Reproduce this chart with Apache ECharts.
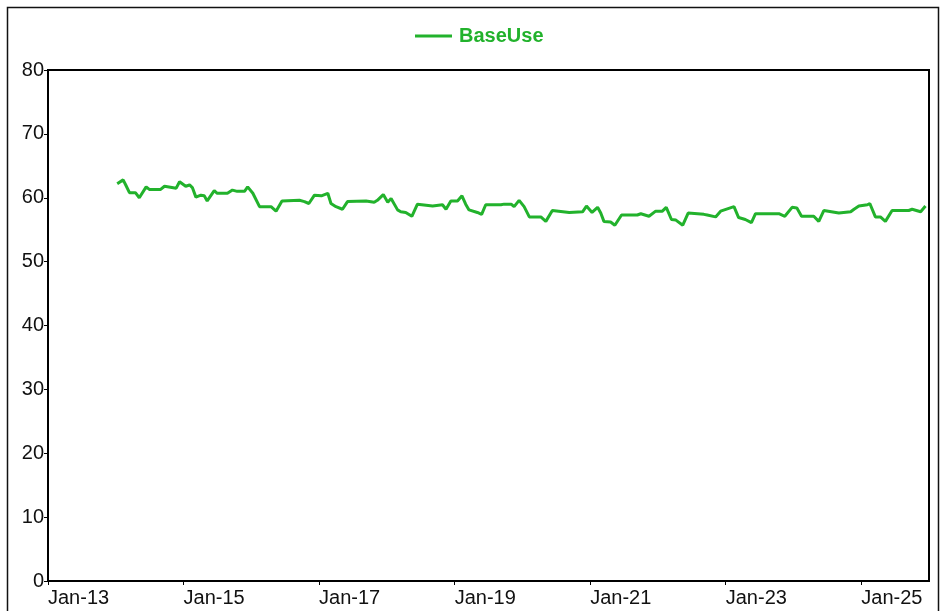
<!DOCTYPE html>
<html>
<head>
<meta charset="utf-8">
<script src="https://cdn.jsdelivr.net/npm/echarts@6/dist/echarts.min.js"></script>
<style>
html,body{margin:0;padding:0;background:#fff;}
#chart{width:941px;height:611px;}
</style>
</head>
<body>
<div id="chart"></div>
<script>
// Series name
const seriesName = 'BaseUse';

// Dates of traced vertices
const dates = [
'2014-01-09','2014-02-10','2014-02-24','2014-03-16','2014-04-17','2014-05-08','2014-06-14','2014-07-01','2014-08-31','2014-09-21',
'2014-11-23','2014-12-11','2015-01-13','2015-02-03','2015-02-18','2015-03-09','2015-04-05','2015-04-23','2015-05-09','2015-06-16',
'2015-07-02','2015-08-26','2015-09-22','2015-10-18','2015-11-26','2015-12-13','2016-01-10','2016-02-15','2016-04-17','2016-05-14',
'2016-06-15','2016-09-17','2016-10-14','2016-11-07','2016-12-07','2017-01-13','2017-02-17','2017-03-06','2017-04-02','2017-05-07',
'2017-06-03','2017-09-11','2017-10-25','2017-11-11','2017-12-13','2018-01-06','2018-01-24','2018-02-28','2018-03-17','2018-04-13',
'2018-05-16','2018-06-15','2018-09-05','2018-10-28','2018-11-16','2018-12-12','2019-01-17','2019-02-10','2019-03-02','2019-03-20',
'2019-05-04','2019-05-27','2019-06-18','2019-09-08','2019-09-25','2019-11-02','2019-11-18','2019-12-15','2020-01-11','2020-02-08',
'2020-04-10','2020-05-07','2020-06-11','2020-09-10','2020-11-21','2020-12-12','2021-01-11','2021-02-10','2021-02-27','2021-03-16',
'2021-04-21','2021-05-14','2021-06-19','2021-09-12','2021-10-01','2021-11-14','2021-12-20','2022-01-25','2022-02-15','2022-03-15',
'2022-04-08','2022-05-15','2022-06-13','2022-09-06','2022-09-24','2022-11-08','2022-12-05','2023-02-15','2023-03-12','2023-04-17',
'2023-05-20','2023-06-11','2023-09-09','2023-10-15','2023-11-16','2023-12-25','2024-01-20','2024-02-14','2024-04-20','2024-05-17',
'2024-06-13','2024-09-02','2024-11-05','2024-11-23','2024-12-19','2025-02-03','2025-02-16','2025-03-18','2025-04-14','2025-05-11',
'2025-06-16','2025-09-14','2025-10-02','2025-11-17','2025-12-13'
];

// BaseUse values at those dates
const baseUse = [
62.2,62.8,62.0,60.8,60.8,60.0,61.7,61.3,61.3,61.8,
61.5,62.5,61.8,62.0,61.6,60.1,60.4,60.3,59.5,61.1,
60.7,60.7,61.2,61.0,61.0,61.7,60.7,58.6,58.6,57.9,
59.5,59.6,59.4,59.1,60.4,60.3,60.7,59.1,58.6,58.2,
59.4,59.5,59.3,59.6,60.5,59.3,59.9,58.1,57.8,57.7,
57.1,59.0,58.7,58.9,58.2,59.5,59.5,60.3,59.0,58.1,
57.7,57.4,58.9,58.9,59.0,59.0,58.6,59.6,58.6,57.0,
57.0,56.3,58.0,57.7,57.8,58.7,57.7,58.5,57.6,56.3,
56.2,55.7,57.3,57.3,57.5,57.1,57.9,57.9,58.5,56.6,
56.5,55.7,57.6,57.4,57.3,57.0,57.9,58.6,56.9,56.6,
56.1,57.5,57.5,57.5,57.1,58.5,58.4,57.1,57.1,56.3,
58.0,57.6,57.8,58.2,58.7,58.9,59.1,57.0,57.0,56.3,
58.0,58.0,58.2,57.8,58.7
];

// Axis settings (tick labels)
const xMin = '2013-01-01';
const xMax = '2026-01-01';
const yTicks = [0,10,20,30,40,50,60,70,80];

const GREEN = '#22b22c';
const FONT = '"Liberation Sans", Arial, sans-serif';

const chart = echarts.init(document.getElementById('chart'), null, {renderer: 'canvas'});
const DAY = 86400000;
const interval2y = 730.5 * DAY;
const data = dates.map((d, i) => [Date.parse(d + 'T00:00:00Z'), baseUse[i]]);

chart.setOption({
  animation: false,
  backgroundColor: '#fff',
  graphic: [{
    type: 'rect',
    shape: {x: 7.5, y: 7.5, width: 931, height: 620},
    style: {fill: 'none', stroke: '#111', lineWidth: 1.5},
    silent: true
  }],
  legend: {
    left: 410,
    top: 21,
    icon: 'rect',
    itemWidth: 37,
    itemHeight: 3,
    itemGap: 10,
    data: [seriesName],
    textStyle: {color: GREEN, fontWeight: 'bold', fontSize: 20, fontFamily: FONT, padding: [0, 0, 0, 2]}
  },
  grid: {
    left: 48, right: 12, top: 70, bottom: 30,
    show: true, borderColor: '#000', borderWidth: 2, backgroundColor: '#fff'
  },
  xAxis: {
    type: 'value',
    min: Date.parse(xMin + 'T00:00:00Z'),
    max: Date.parse(xMax + 'T00:00:00Z'),
    interval: interval2y,
    splitLine: {show: false},
    axisLine: {show: true, lineStyle: {color: '#000', width: 2}},
    axisTick: {show: true, length: 4, lineStyle: {color: '#000'}},
    axisLabel: {
      show: true, align: 'left', margin: 7, showMaxLabel: false,
      color: '#111', fontSize: 20, fontFamily: FONT,
      formatter: v => {
        const d = new Date(v + 0.5 * DAY);
        return 'Jan-' + String(d.getUTCFullYear()).slice(2);
      }
    }
  },
  yAxis: {
    type: 'value',
    min: yTicks[0], max: yTicks[yTicks.length - 1], interval: 10,
    splitLine: {show: false},
    axisLine: {show: true, lineStyle: {color: '#000', width: 2}},
    axisTick: {show: true, length: 4, lineStyle: {color: '#000'}},
    axisLabel: {color: '#111', fontSize: 20, fontFamily: FONT, margin: 4}
  },
  series: [{
    name: seriesName,
    type: 'line',
    data: data,
    showSymbol: false,
    symbol: 'none',
    lineStyle: {color: GREEN, width: 3},
    itemStyle: {color: GREEN}
  }]
});
</script>
</body>
</html>
